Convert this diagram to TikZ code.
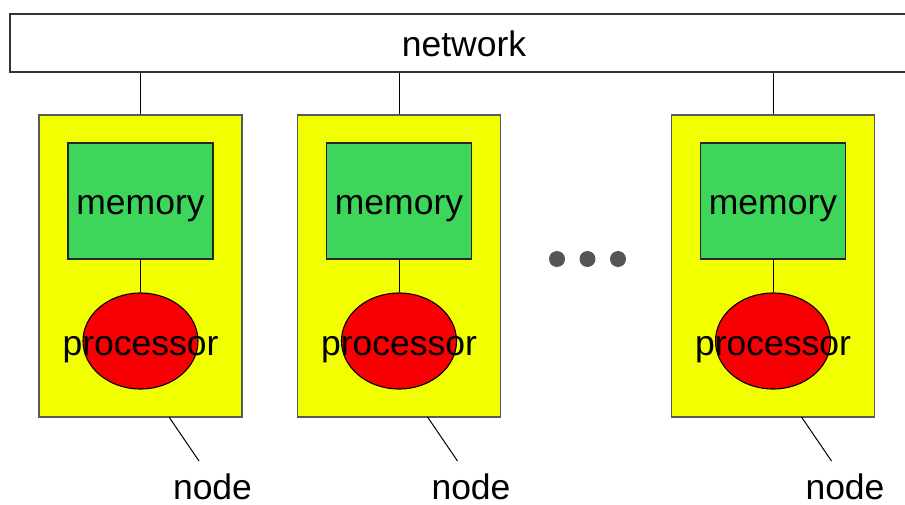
\documentclass[tikz,border=0pt]{standalone}
\usepackage{fontspec}
\setmainfont{Liberation Sans}
\usetikzlibrary{shapes.geometric}
\definecolor{boardyellow}{RGB}{242,255,0}
\definecolor{memorygreen}{RGB}{62,214,90}
\definecolor{processorred}{RGB}{247,0,4}
\definecolor{dotgray}{RGB}{85,85,85}

\begin{document}
\begin{tikzpicture}[x=1pt,y=-1pt]
    \pgfmathsetmacro{\boardwidth}{203}
    \pgfmathsetmacro{\boardheight}{302}
    \pgfmathsetmacro{\memorywidth}{145}
    \pgfmathsetmacro{\memoryheight}{116}
    \pgfmathsetmacro{\cpuwidth}{115}
    \pgfmathsetmacro{\cpuheight}{96}
    \providecommand{\labelfontsize}{\fontsize{35.5}{40}\selectfont}
    \tikzset{
        sometext/.style={font=\labelfontsize,text height=28pt,text depth=0pt,inner sep=0},
        netbox/.style={draw=black!80,line width=1.4pt,fill=white,sometext,
            minimum width=908,minimum height=58},
        boardbox/.style={draw=black!65,line width=1.3pt,fill=boardyellow,
            minimum width=\boardwidth,minimum height=\boardheight,inner sep=0},
        memorybox/.style={draw=black!85,line width=1.1pt,fill=memorygreen,sometext,
            minimum width=\memorywidth,minimum height=\memoryheight},
        cpubox/.style={ellipse,draw=black,line width=1.1pt,fill=processorred,inner sep=0,
            minimum width=\cpuwidth,minimum height=\cpuheight},
        wire/.style={draw=black,line width=1pt}
    }
    \path[use as bounding box,clip] (0,0) rectangle (905,505);
    \node[netbox] (net) at (464,43) {network};
    \foreach \x [count=\i] in {39,297.5,671.5} {
        \node[boardbox] (board\i) at (\x+101.5,266) {};
        \node[memorybox] (mem\i) at (\x+101.5,201) {memory};
        \node[cpubox,label={[sometext]center:processor}] (cpu\i) at (\x+101.5,341) {};
        \draw[wire] (net.south -| board\i.north) -- (board\i.north);
        \draw[wire] (mem\i) -- (cpu\i);
        % pointer to the caption
        \coordinate (foot\i) at (\x+130,417);
        \coordinate (tip\i) at (\x+160,461);
        \draw[wire] (foot\i) -- (tip\i);
        \node[font=\labelfontsize,anchor=base,inner sep=0] (caption\i) at (\x+173.5,499) {node};
    }
    \foreach \d in {557,587.5,618}
        \fill[dotgray] (\d,259) circle (8pt);
\end{tikzpicture}
\end{document}
